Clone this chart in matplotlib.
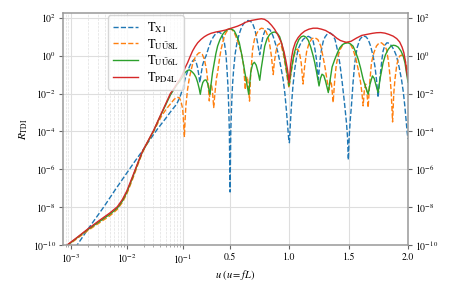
import numpy as np
import matplotlib
matplotlib.use("Agg")
import matplotlib.pyplot as plt
from matplotlib.ticker import NullLocator, FixedLocator

plt.rcParams["font.family"] = "serif"
plt.rcParams["font.serif"] = ["STIXGeneral", "DejaVu Serif"]
plt.rcParams["mathtext.fontset"] = "stix"

# --- data (u, log10 R) ---
u_pd4l = [7.0e-4, 8.51e-4, 1.26e-3, 1.91e-3, 3.16e-3, 5.01e-3, 6.76e-3, 8.32e-3, 0.01, 0.0126,
          0.0158, 0.0191, 0.024, 0.0302, 0.038, 0.0479, 0.0603, 0.0692, 0.0782, 0.0891,
          0.1, 0.12, 0.142, 0.163, 0.184, 0.205, 0.227, 0.255, 0.283, 0.31, 0.339, 0.38, 0.424,
          0.46, 0.494, 0.53, 0.564, 0.60, 0.634, 0.68, 0.733, 0.764, 0.79, 0.82, 0.85, 0.876,
          0.905, 0.933, 0.955, 0.97, 0.983, 0.99, 0.997, 1.004, 1.011, 1.02, 1.031, 1.05, 1.073,
          1.10, 1.13, 1.165, 1.2, 1.235, 1.27, 1.305, 1.34, 1.37, 1.40, 1.43, 1.48, 1.52, 1.566,
          1.61, 1.65, 1.70, 1.734, 1.77, 1.805, 1.84, 1.875, 1.905, 1.93, 1.95, 1.965, 1.978,
          1.987, 1.995, 2.0]
lr_pd4l = [-10.35, -10.0, -9.62, -9.2, -8.72, -8.3, -7.98, -7.6, -7.15, -6.4,
           -5.65, -5.05, -4.5, -3.95, -3.3, -2.65, -2.0, -1.75, -1.51, -1.25,
           -0.98, -0.65, -0.37, -0.05, 0.25, 0.48, 0.68, 0.86, 1.0, 1.1, 1.18, 1.25, 1.30,
           1.35, 1.42, 1.49, 1.56, 1.66, 1.77, 1.86, 1.92, 1.95, 1.92, 1.80, 1.60, 1.39,
           1.07, 0.68, 0.2, -0.25, -0.7, -1.0, -1.42, -1.0, -0.45, -0.05, 0.33, 0.7, 0.95,
           1.15, 1.30, 1.40, 1.45, 1.45, 1.40, 1.33, 1.2, 1.08, 0.92, 0.8, 0.70, 0.76, 0.93,
           1.07, 1.12, 1.18, 1.21, 1.22, 1.19, 1.12, 1.03, 0.9, 0.72, 0.45, 0.16, -0.3,
           -0.75, -1.05, -1.2]

u_x1 = [1.0e-3, 1.29e-3, 1.95e-3, 3.89e-3, 6.31e-3, 9.55e-3, 0.0138, 0.0186, 0.0251, 0.0355,
        0.0501, 0.0631, 0.0782, 0.0891,
        0.1, 0.12, 0.142, 0.163, 0.184, 0.198, 0.212, 0.225, 0.236, 0.245, 0.255, 0.268, 0.283,
        0.297, 0.318, 0.339, 0.36, 0.381, 0.405, 0.43, 0.452, 0.465, 0.474, 0.482, 0.488, 0.494,
        0.5, 0.506, 0.513, 0.52, 0.53, 0.543, 0.558, 0.575, 0.592, 0.61, 0.63, 0.652, 0.675,
        0.69, 0.71, 0.725, 0.738, 0.75, 0.762, 0.778, 0.795, 0.815, 0.834, 0.85, 0.862, 0.884,
        0.904, 0.925, 0.947, 0.962, 0.975, 0.985, 0.993, 1.0, 1.008, 1.017, 1.03, 1.045, 1.06,
        1.073, 1.095, 1.116, 1.14, 1.16, 1.18, 1.2, 1.215, 1.228, 1.236, 1.244, 1.252, 1.26,
        1.27, 1.285, 1.3, 1.32, 1.345, 1.365, 1.385, 1.405, 1.425, 1.445, 1.467, 1.482, 1.49,
        1.497, 1.504, 1.513, 1.523, 1.537, 1.551, 1.57, 1.594, 1.62, 1.645, 1.664, 1.685, 1.706,
        1.722, 1.734, 1.748, 1.758, 1.768, 1.78, 1.79, 1.805, 1.822, 1.84, 1.861, 1.882, 1.903,
        1.925, 1.945, 1.96, 1.973, 1.985, 1.993, 2.0]
lr_x1 = [-10.45, -10.0, -9.22, -7.98, -7.05, -6.28, -5.6, -5.07, -4.5, -3.87,
         -3.3, -2.9, -2.56, -2.2,
         -1.77, -1.25, -0.81, -0.5, -0.28, -0.2, -0.3, -0.6, -1.0, -1.42, -1.0, -0.5, -0.2,
         -0.02, 0.4, 0.77, 1.0, 1.18, 1.25, 1.15, 0.68, 0.1, -0.72, -1.6, -2.6, -4.0,
         -7.2, -4.0, -2.6, -1.6, -0.72, 0.1, 0.68, 1.1, 1.42, 1.65, 1.8, 1.86, 1.8,
         1.7, 1.35, 0.9, 0.45, 0.05, 0.5, 1.04, 1.33, 1.42, 1.38, 1.22, 1.04, 0.6,
         0.16, -0.5, -1.25, -2.0, -2.9, -3.7, -4.3, -4.6, -3.6, -2.65, -1.6, -0.72, -0.1,
         0.33, 0.65, 0.86, 0.98, 1.02, 0.95, 0.77, 0.35, -0.19, -0.7, -1.25, -0.7, -0.15,
         0.3, 0.75, 0.98, 1.15, 1.2, 1.1, 0.85, 0.3, -0.4, -1.4, -2.65, -3.6, -4.3,
         -5.5, -4.3, -3.4, -2.65, -1.4, -0.4, 0.4, 0.86, 1.05, 1.0, 0.86, 0.5, -0.02,
         -0.6, -1.25, -2.21, -1.5, -0.9, -0.2, 0.25, 0.55, 0.68, 0.66, 0.52, 0.3, -0.02,
         -0.6, -1.25, -1.9, -2.65, -3.5, -4.05, -4.4]

u_uu8 = [7.0e-4, 8.51e-4, 1.26e-3, 1.91e-3, 3.16e-3, 5.01e-3, 6.76e-3, 8.32e-3, 0.01, 0.0126,
         0.0158, 0.0191, 0.024, 0.0302, 0.0355, 0.0417, 0.0501, 0.0603, 0.0708, 0.0794,
         0.0871, 0.0933,
         0.1, 0.106, 0.111, 0.115, 0.12, 0.128, 0.142, 0.156, 0.17, 0.184, 0.198, 0.215, 0.235,
         0.25, 0.265, 0.283, 0.3, 0.315, 0.325, 0.333, 0.342, 0.352, 0.362, 0.372, 0.385, 0.395,
         0.41, 0.424, 0.44, 0.452, 0.466, 0.48, 0.502, 0.52, 0.536, 0.556, 0.578, 0.6, 0.615,
         0.628, 0.636, 0.645, 0.655, 0.664, 0.672, 0.69, 0.705, 0.719, 0.74, 0.764, 0.785,
         0.805, 0.82, 0.835, 0.848, 0.858, 0.864, 0.872, 0.885, 0.9, 0.918, 0.935, 0.952,
         0.968, 0.985, 0.997, 1.01, 1.025, 1.04, 1.055, 1.07, 1.085, 1.1, 1.115, 1.128, 1.145,
         1.165, 1.19, 1.214, 1.24, 1.265, 1.285, 1.3, 1.32, 1.335, 1.345, 1.355, 1.369, 1.382,
         1.395, 1.41, 1.43, 1.453, 1.475, 1.495, 1.515, 1.537, 1.56, 1.58, 1.6, 1.612, 1.622,
         1.632, 1.643, 1.653, 1.664, 1.675, 1.692, 1.712, 1.734, 1.755, 1.776, 1.8, 1.819,
         1.835, 1.847, 1.858, 1.87, 1.88, 1.89, 1.905, 1.917, 1.93, 1.945, 1.96, 1.973, 1.985,
         2.0]
lr_uu8 = [-10.4, -10.05, -9.68, -9.28, -8.85, -8.45, -8.12, -7.75, -7.3, -6.55,
          -5.75, -5.12, -4.55, -4.0, -3.6, -3.2, -2.85, -2.55, -2.3, -2.2,
          -2.22, -2.4,
          -2.8, -3.3, -3.9, -4.3, -3.5, -2.6, -1.77, -1.2, -0.81, -0.45, -0.19, 0.0, 0.14,
          0.16, 0.08, -0.19, -0.7, -1.5, -2.39, -1.6, -1.5, -1.9, -2.74, -2.0, -1.2, -0.89,
          -0.2, 0.33, 0.75, 1.04, 1.22, 1.35, 1.42, 1.35, 1.21, 0.9, 0.51, 0.0, -0.55,
          -1.8, -1.2, -1.1, -1.6, -2.4, -1.2, 0.33, 0.85, 1.1, 1.35, 1.45, 1.42,
          1.25, 1.0, 0.55, 0.0, -0.6, -1.0, -0.4, 0.16, 0.55, 0.65, 0.45, 0.0,
          -0.6, -1.3, -1.7, -1.1, -0.5, 0.0, 0.3, 0.35, 0.15, -0.4, -1.5, -0.6, 0.2,
          0.65, 0.9, 0.95, 0.85, 0.5, -0.1, -0.6, -1.4, -1.8, -1.3, -1.5, -2.47, -1.3,
          -0.5, -0.02, 0.35, 0.6, 0.7, 0.7, 0.6, 0.33, -0.15, -0.72, -1.4, -2.0, -2.65,
          -1.8, -1.5, -1.9, -2.74, -1.6, -0.37, 0.15, 0.51, 0.66, 0.68, 0.55, 0.33,
          -0.3, -1.0, -1.9, -3.5, -2.0, -1.25, -0.5, -0.19, -0.02, 0.03, -0.05, -0.2, -0.45,
          -0.9]

u_uu6 = [7.0e-4, 8.51e-4, 1.26e-3, 1.91e-3, 3.16e-3, 5.01e-3, 6.76e-3, 8.32e-3, 0.01, 0.0126,
         0.0158, 0.0191, 0.024, 0.0302, 0.038, 0.0479, 0.0603, 0.0692, 0.0782, 0.0891,
         0.1, 0.114, 0.128, 0.142, 0.156, 0.17, 0.184, 0.198, 0.213, 0.227, 0.24, 0.249, 0.258,
         0.27, 0.283, 0.297, 0.31, 0.322, 0.331, 0.34, 0.352, 0.367, 0.38, 0.395, 0.415, 0.437,
         0.458, 0.48, 0.502, 0.52, 0.536, 0.556, 0.578, 0.6, 0.62, 0.638, 0.65, 0.657, 0.665,
         0.675, 0.69, 0.705, 0.72, 0.735, 0.75, 0.762, 0.777, 0.792, 0.812, 0.834, 0.855, 0.876,
         0.898, 0.918, 0.935, 0.952, 0.968, 0.985, 0.997, 1.01, 1.025, 1.04, 1.06, 1.08, 1.1,
         1.12, 1.14, 1.16, 1.18, 1.2, 1.214, 1.23, 1.25, 1.262, 1.275, 1.29, 1.305, 1.318, 1.328,
         1.34, 1.36, 1.383, 1.405, 1.425, 1.447, 1.467, 1.495, 1.515, 1.537, 1.558, 1.58, 1.6,
         1.622, 1.645, 1.664, 1.68, 1.70, 1.715, 1.732, 1.748, 1.765, 1.79, 1.81, 1.833, 1.855,
         1.875, 1.895, 1.917, 1.94, 1.96, 1.975, 1.987, 2.0]
lr_uu6 = [-10.38, -10.02, -9.64, -9.23, -8.78, -8.37, -8.05, -7.68, -7.22, -6.46,
          -5.68, -5.07, -4.52, -3.97, -3.32, -2.7, -2.08, -1.8, -1.55, -1.35,
          -1.12, -0.95, -0.85, -0.78, -0.75, -0.8, -0.88, -0.98, -1.15, -1.42, -1.75, -2.04, -1.7,
          -1.42, -1.3, -1.28, -1.45, -1.8, -2.04, -1.5, -0.9, -0.37, 0.1, 0.51, 0.85, 1.12,
          1.28, 1.38, 1.42, 1.38, 1.30, 1.05, 0.68, 0.0, -0.72, -1.35, -1.8, -2.04, -1.5,
          -0.85, -0.45, -0.35, -0.5, -0.85, -1.3, -0.7, -0.1, 0.5, 0.9, 1.12, 1.22, 1.25,
          1.18, 1.0, 0.65, 0.15, -0.45, -1.1, -1.6, -1.0, -0.4, 0.1, 0.55, 0.85, 1.0,
          1.04, 0.98, 0.8, 0.45, 0.0, -0.37, -0.9, -1.6, -1.2, -0.98, -1.05, -1.35, -1.7, -1.95,
          -1.42, -0.6, -0.19, 0.15, 0.42, 0.58, 0.65, 0.68, 0.62, 0.5, 0.2, -0.19, -0.65,
          -1.25, -1.7, -2.04, -1.5, -1.07, -1.2, -1.6, -1.95, -1.2, -0.37, 0.05, 0.33, 0.5,
          0.55, 0.53, 0.45, 0.25, -0.02, -0.4, -0.9, -1.4]

labels = [r"$\mathrm{T}_{\mathrm{X1}}$",
          r"$\mathrm{T}_{\mathrm{U}\bar{\mathrm{U}}\mathrm{8L}}$",
          r"$\mathrm{T}_{\mathrm{U}\bar{\mathrm{U}}\mathrm{6L}}$",
          r"$\mathrm{T}_{\mathrm{PD4L}}$"]

xticks = [1e-3, 1e-2, 1e-1, 0.5, 1.0, 1.5, 2.0]
xticklabels = [r"$10^{-3}$", r"$10^{-2}$", r"$10^{-1}$", "0.5", "1.0", "1.5", "2.0"]
yticks = [1e-10, 1e-8, 1e-6, 1e-4, 1e-2, 1e0, 1e2]

# --- hybrid x scale: log below u = 0.1, linear above ---
K = 2.125  # "decades" per unit of u on the linear part


def fwd(u):
    u = np.asarray(u, dtype=float)
    with np.errstate(divide="ignore", invalid="ignore"):
        lg = np.log10(np.where(u > 0, u, np.nan))
    return np.where(u < 0.1, lg, -1.0 + K * (u - 0.1))


def inv(v):
    v = np.asarray(v, dtype=float)
    return np.where(v < -1.0, 10.0 ** np.minimum(v, -1.0), 0.1 + (v + 1.0) / K)


fig = plt.figure(figsize=(4.49, 2.87), dpi=100)
ax = fig.add_axes([0.1396, 0.1463, 0.9087 - 0.1396, 0.9564 - 0.1463])
ax.set_xscale("function", functions=(fwd, inv))
ax.set_yscale("log")

ax.plot(u_x1, 10.0 ** np.array(lr_x1), ls="--", color="C0", lw=1.0, label=labels[0])
ax.plot(u_uu8, 10.0 ** np.array(lr_uu8), ls="--", color="C1", lw=1.0, label=labels[1])
ax.plot(u_uu6, 10.0 ** np.array(lr_uu6), ls="-", color="C2", lw=1.0, label=labels[2])
ax.plot(u_pd4l, 10.0 ** np.array(lr_pd4l), ls="-", color="C3", lw=1.0, label=labels[3])

ax.set_xlim(7.1e-4, 2.0)
ax.set_ylim(1e-10, 1.9e2)

ax.xaxis.set_major_locator(FixedLocator(xticks))
ax.set_xticklabels(xticklabels)
minor = [k * 10.0 ** e for e in (-4, -3, -2) for k in range(2, 10)]
minor = [m for m in minor if 7.1e-4 < m < 0.1]
ax.xaxis.set_minor_locator(FixedLocator(minor))
ax.xaxis.set_minor_formatter(plt.NullFormatter())

ax.yaxis.set_major_locator(FixedLocator(yticks))
ax.set_yticklabels([r"$10^{%d}$" % int(np.log10(t)) for t in yticks])
ax.yaxis.set_minor_locator(NullLocator())

ax.grid(True, which="major", color="0.87", lw=0.8)
ax.grid(True, which="minor", axis="x", color="0.88", lw=0.5, ls="--")
ax.set_axisbelow(True)

ax.tick_params(axis="both", which="major", labelsize=7, length=3, color="0.4", pad=2)
ax.tick_params(axis="x", which="minor", length=1.5, color="0.6")
ax.tick_params(axis="y", which="both", right=True, labelright=True)
for sp in ax.spines.values():
    sp.set_color("0.6")
    sp.set_linewidth(1.1)

ax.set_xlabel(r"$u\ (u=fL)$", fontsize=7.5, labelpad=2)
ax.set_ylabel(r"$R_{\rm TDI}$", fontsize=8, labelpad=2)

ax.legend(loc="upper left", bbox_to_anchor=(0.131, 0.989), borderaxespad=0,
          fontsize=9, handlelength=2.0, labelspacing=0.15, handletextpad=0.7,
          borderpad=0.4, framealpha=0.8, edgecolor="0.8")

fig.savefig("out.png", dpi=100)
